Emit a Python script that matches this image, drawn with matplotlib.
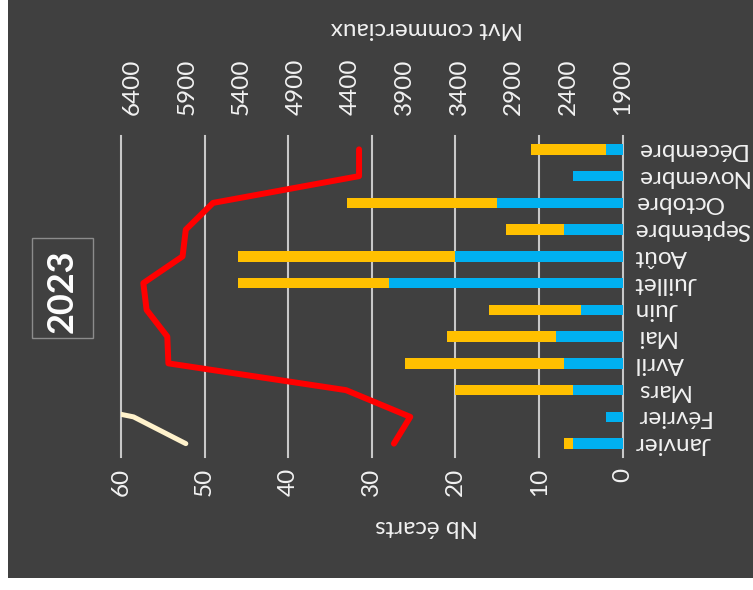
import matplotlib as mpl
mpl.use("Agg")
import matplotlib.pyplot as plt
import numpy as np
from matplotlib.patches import Rectangle

plt.rcParams["font.family"] = ["Lato", "DejaVu Sans"]

# ## Data
MONTHS = ["Janvier", "Février", "Mars", "Avril", "Mai", "Juin", "Juillet",
          "Août", "Septembre", "Octobre", "Novembre", "Décembre"]
ECARTS_BLEU = [6, 2, 6, 7, 8, 5, 28, 20, 7, 15, 6, 2]
ECARTS_JAUNE = [1, 0, 14, 19, 13, 11, 18, 26, 7, 18, 0, 9]
MVT_2023 = [4000, 3850, 4440, 6070, 6080, 6270, 6300, 5940, 5910, 5660, 4320, 4320]
MVT_REF = [5910, 6390, 7600]
ECARTS_TICKS = [0, 10, 20, 30, 40, 50, 60]
MVT_TICKS = [1900, 2400, 2900, 3400, 3900, 4400, 4900, 5400, 5900, 6400]

BG = "#404040"
TXT = "#F2F2F2"
FS = 17.5
W, H = 753, 590


def main():
    fig = plt.figure(figsize=(W / 100, H / 100), dpi=100)
    fig.patch.set_facecolor("white")
    fig.add_artist(Rectangle((7.5 / W, 12 / H), 1, 1, transform=fig.transFigure,
                             facecolor=BG, edgecolor="none", zorder=-1))

    ax = fig.add_axes([121 / W, 1 - 457 / H, (622.7 - 121) / W, (457 - 136) / H])
    ax.set_facecolor("none")
    y = np.arange(len(MONTHS))
    ax.barh(y, ECARTS_BLEU, height=0.4, color="#00B0F0")
    ax.barh(y, ECARTS_JAUNE, left=ECARTS_BLEU, height=0.4, color="#FFC000")
    ax.set_xlim(60, 0)
    ax.set_ylim(-0.5, len(MONTHS) - 0.5)
    ax.set_xticks(ECARTS_TICKS)
    ax.set_axisbelow(True)
    ax.grid(axis="x", color="#C8C8C8", linewidth=1.5)
    for line in ax.get_xgridlines():
        line.set_clip_on(False)
    for s in ax.spines.values():
        s.set_visible(False)
    ax.tick_params(axis="x", length=0, pad=8, labelrotation=90, labelcolor=TXT, labelsize=FS)
    ax.set_yticks(y, MONTHS)
    ax.tick_params(axis="y", left=False, right=False, labelleft=False, labelright=True,
                   labelrotation=180, pad=5, labelcolor=TXT, labelsize=FS)
    for lbl in ax.get_yticklabels():
        lbl.set_va("center")

    ax2 = ax.twiny()
    ax2.plot(MVT_REF, y[:len(MVT_REF)], color="#FFF2CC", linewidth=3.6, solid_capstyle="round")
    ax2.plot(MVT_2023, y, color="#FF0000", linewidth=4.3, solid_joinstyle="round",
             solid_capstyle="round")
    ax2.set_xlim(6505, 1900)
    ax2.set_xticks(MVT_TICKS)
    for s in ax2.spines.values():
        s.set_visible(False)
    ax2.tick_params(axis="x", length=0, pad=15, labelrotation=90, labelcolor=TXT, labelsize=FS)

    fig.text(426.5 / W, 1 - 29 / H, "Mvt commerciaux", rotation=180, ha="center", va="center",
             color=TXT, fontsize=FS)
    fig.text(427 / W, 1 - 526 / H, "Nb écarts", rotation=180, ha="center", va="center",
             color=TXT, fontsize=FS)

    fig.add_artist(Rectangle((32 / W, 1 - 338 / H), 61 / W, 100 / H, transform=fig.transFigure,
                             facecolor="none", edgecolor="#8C8C8C", linewidth=1))
    fig.text(62.5 / W, 1 - 291 / H, "2023", rotation=90, ha="center", va="center",
             color="white", fontsize=26, fontweight="bold")

    fig.savefig("out.png", dpi=100, facecolor=fig.get_facecolor())
    plt.close(fig)


if __name__ == "__main__":
    main()
